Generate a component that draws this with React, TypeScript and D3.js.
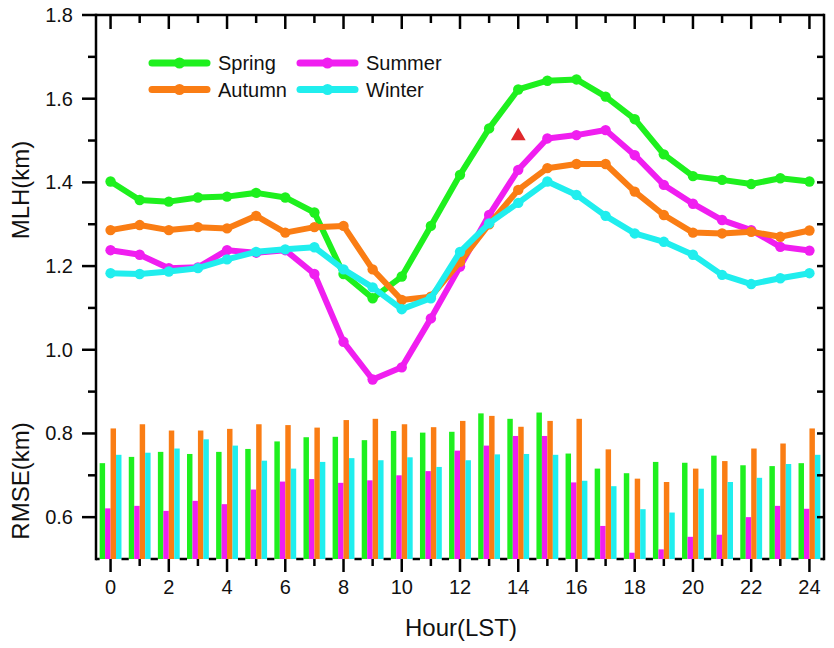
import * as d3 from "d3";

const hours = d3.range(0, 25);
const seasons = ["Spring", "Summer", "Autumn", "Winter"];
const colors: Record<string, string> = {
  Spring: "#1ef01e",
  Summer: "#f01ef0",
  Autumn: "#fa7d14",
  Winter: "#20eeee",
};

// MLH (km), hour 0..24
const mlhSpring = [1.402, 1.358, 1.354, 1.364, 1.366, 1.375, 1.364, 1.328, 1.181, 1.123, 1.175, 1.296, 1.418, 1.529, 1.622, 1.643, 1.646, 1.605, 1.551, 1.467, 1.415, 1.406, 1.396, 1.41, 1.402];
const mlhSummer = [1.238, 1.227, 1.195, 1.197, 1.238, 1.232, 1.238, 1.181, 1.019, 0.929, 0.958, 1.075, 1.199, 1.322, 1.43, 1.505, 1.513, 1.525, 1.465, 1.394, 1.349, 1.31, 1.286, 1.246, 1.237];
const mlhAutumn = [1.286, 1.298, 1.286, 1.293, 1.29, 1.32, 1.28, 1.293, 1.296, 1.192, 1.119, 1.127, 1.21, 1.3, 1.382, 1.434, 1.444, 1.444, 1.378, 1.322, 1.28, 1.278, 1.282, 1.27, 1.285];
const mlhWinter = [1.183, 1.181, 1.187, 1.195, 1.216, 1.234, 1.24, 1.245, 1.192, 1.149, 1.097, 1.123, 1.234, 1.302, 1.351, 1.402, 1.37, 1.32, 1.278, 1.258, 1.227, 1.179, 1.157, 1.171, 1.183];

// RMSE (km), hour 0..24
const rmseSpring = [0.729, 0.744, 0.756, 0.751, 0.756, 0.763, 0.781, 0.791, 0.792, 0.784, 0.806, 0.802, 0.804, 0.848, 0.835, 0.85, 0.752, 0.716, 0.705, 0.732, 0.73, 0.747, 0.724, 0.722, 0.729];
const rmseSummer = [0.621, 0.627, 0.615, 0.639, 0.631, 0.666, 0.685, 0.691, 0.682, 0.688, 0.7, 0.71, 0.759, 0.771, 0.794, 0.794, 0.683, 0.579, 0.515, 0.523, 0.553, 0.558, 0.6, 0.627, 0.62];
const rmseAutumn = [0.812, 0.822, 0.807, 0.807, 0.811, 0.822, 0.82, 0.814, 0.832, 0.835, 0.822, 0.815, 0.83, 0.842, 0.816, 0.83, 0.835, 0.762, 0.692, 0.684, 0.716, 0.734, 0.764, 0.776, 0.812];
const rmseWinter = [0.749, 0.754, 0.764, 0.786, 0.771, 0.735, 0.716, 0.732, 0.741, 0.736, 0.743, 0.72, 0.736, 0.75, 0.751, 0.749, 0.687, 0.674, 0.619, 0.611, 0.668, 0.684, 0.694, 0.727, 0.749];

const mlh: Record<string, number[]> = { Spring: mlhSpring, Summer: mlhSummer, Autumn: mlhAutumn, Winter: mlhWinter };
const rmse: Record<string, number[]> = { Spring: rmseSpring, Summer: rmseSummer, Autumn: rmseAutumn, Winter: rmseWinter };

// single marked point (red triangle)
const marker = { hour: 14, value: 1.511 };

const yMajor = [0.6, 0.8, 1.0, 1.2, 1.4, 1.6, 1.8];
const yMinor = [0.7, 0.9, 1.1, 1.3, 1.5, 1.7];
const xLabels = d3.range(0, 25, 2);

const legendRows = [
  ["Spring", "Summer"],
  ["Autumn", "Winter"],
];

export default function App() {
  const width = 834;
  const height = 648;
  const left = 96, right = 824, top = 15, bottom = 559;
  const font = "Arial, 'Liberation Sans', sans-serif";

  const x = d3.scaleLinear().domain([-0.5, 24.5]).range([left, right]);
  const y = d3.scaleLinear().domain([0.5, 1.8]).range([bottom, top]);

  const groupW = x(0.375) - x(-0.375);
  const sub = d3.scaleBand().domain(seasons).range([0, groupW]).padding(0);

  const line = d3.line<number>()
    .x((_, i) => x(hours[i]))
    .y(d => y(d))
    .curve(d3.curveLinear);

  const tri = d3.symbol(d3.symbolTriangle, 95)();

  return (
    <svg width={width} height={height} style={{ position: "absolute", left: 0, top: 0, background: "#fff" }} fontFamily={font}>
      <rect x={0} y={0} width={width} height={height} fill="#fff" />

      {/* Bars (RMSE) */}
      <g>
        {seasons.map(s => (
          <g key={s} fill={colors[s]}>
            {hours.map((h, i) => (
              <rect key={h}
                x={x(h) - groupW / 2 + (sub(s) ?? 0)}
                y={y(rmse[s][i])}
                width={sub.bandwidth()}
                height={y(0.5) - y(rmse[s][i])} />
            ))}
          </g>
        ))}
      </g>

      {/* Lines (MLH) */}
      {seasons.map(s => (
        <g key={s}>
          <path d={line(mlh[s]) ?? ""} fill="none" stroke={colors[s]} strokeWidth={6} strokeLinejoin="round" />
          {mlh[s].map((v, i) => (
            <circle key={i} cx={x(hours[i])} cy={y(v)} r={5.2} fill={colors[s]} />
          ))}
        </g>
      ))}

      <path d={tri ?? ""} transform={`translate(${x(marker.hour)},${y(marker.value)})`} fill="#e0282c" />

      {/* Frame */}
      <g stroke="#000" strokeWidth={2.5} fill="none">
        <line x1={left} x2={left} y1={top - 1.2} y2={bottom + 1.2} />
        <line x1={right} x2={right} y1={top - 1.2} y2={bottom + 1.2} />
        <line x1={left} x2={right} y1={top} y2={top} />
        {/* bottom axis line drawn only between bar groups */}
        {hours.map(h => {
          const a = h === 0 ? left : x(h - 1) + groupW / 2;
          const b = x(h) - groupW / 2;
          return <line key={h} x1={a} x2={b} y1={bottom} y2={bottom} />;
        })}
        <line x1={x(24) + groupW / 2} x2={right} y1={bottom} y2={bottom} />
      </g>

      {/* X ticks */}
      <g stroke="#000" strokeWidth={2.5}>
        {hours.map(h => {
          const major = h % 2 === 0;
          return (
            <g key={h}>
              <line x1={x(h)} x2={x(h)} y1={bottom} y2={bottom + (major ? 13 : 7)} />
              <line x1={x(h)} x2={x(h)} y1={top} y2={top + (major ? 14 : 8)} />
            </g>
          );
        })}
      </g>
      <g fontSize={20} textAnchor="middle" fill="#111">
        {xLabels.map(h => (
          <text key={h} x={x(h)} y={594}>{h}</text>
        ))}
      </g>

      {/* Y ticks */}
      <g stroke="#000" strokeWidth={2.5}>
        {yMajor.map(v => (
          <line key={"M" + v} x1={left - 14} x2={left} y1={y(v)} y2={y(v)} />
        ))}
        {yMinor.map(v => (
          <line key={"m" + v} x1={left - 8} x2={left} y1={y(v)} y2={y(v)} />
        ))}
        {[...yMajor, ...yMinor].filter(v => v < 1.8).map(v => (
          <line key={"r" + v} x1={right - 7} x2={right} y1={y(v)} y2={y(v)} />
        ))}
      </g>
      <g fontSize={20} textAnchor="end" fill="#111">
        {yMajor.map(v => (
          <text key={v} x={73} y={y(v)} dy="0.35em">{d3.format(".1f")(v)}</text>
        ))}
      </g>

      {/* Axis titles */}
      <text transform="translate(29,190) rotate(-90)" textAnchor="middle" fontSize={24} fill="#111">MLH(km)</text>
      <text transform="translate(29,481) rotate(-90)" textAnchor="middle" fontSize={24} fill="#111">RMSE(km)</text>
      <text x={461} y={636} textAnchor="middle" fontSize={24} fill="#111">Hour(LST)</text>

      {/* Legend */}
      <g>
        {legendRows.map((row, r) => (
          row.map((s, c) => {
            const lx = 152 + c * 148;
            const ly = 63 + r * 26.5;
            return (
              <g key={s}>
                <line x1={lx} x2={lx + 55} y1={ly} y2={ly} stroke={colors[s]} strokeWidth={7} strokeLinecap="round" />
                <circle cx={lx + 27.5} cy={ly} r={5.5} fill={colors[s]} />
                <text x={lx + 66} y={ly + 7} fontSize={20} fill="#111">{s}</text>
              </g>
            );
          })
        ))}
      </g>
    </svg>
  );
}
